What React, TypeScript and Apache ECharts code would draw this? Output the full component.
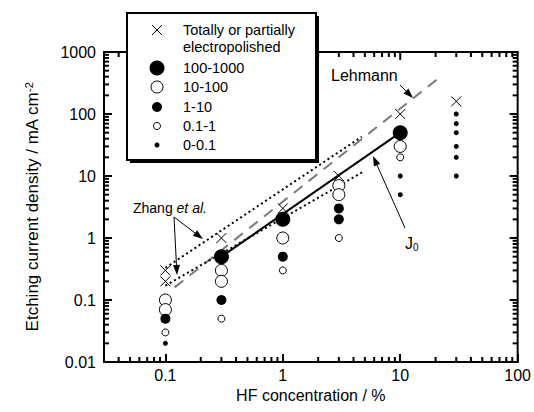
import React, { useEffect, useRef } from 'react';
import * as echarts from 'echarts';

// ---- data ----
const xMajorTicks = [0.1, 1, 10];
const yMajorTicks = [0.1, 1, 10, 100];
const xMinorTicks = [0.04, 0.05, 0.06, 0.07, 0.08, 0.09, 0.2, 0.3, 0.4, 0.5, 0.6, 0.7, 0.8, 0.9, 2, 3, 4, 5, 6, 7, 8, 9, 20, 30, 40, 50, 60, 70, 80, 90];
const yMinorTicks = [0.02, 0.03, 0.04, 0.05, 0.06, 0.07, 0.08, 0.09, 0.2, 0.3, 0.4, 0.5, 0.6, 0.7, 0.8, 0.9, 2, 3, 4, 5, 6, 7, 8, 9, 20, 30, 40, 50, 60, 70, 80, 90, 200, 300, 400, 500, 600, 700, 800, 900];

const electropolished = [[0.1, 0.3], [0.1, 0.2], [0.3, 1], [1, 3], [3, 10], [10, 100], [30, 160]];
const class100to1000 = [[0.3, 0.5], [1, 2], [10, 50]];
const class10to100 = [[0.1, 0.1], [0.1, 0.07], [0.3, 0.3], [0.3, 0.2], [1, 1], [3, 7], [3, 5], [10, 30]];
const class1to10 = [[0.1, 0.05], [0.3, 0.1], [1, 0.5], [3, 3], [3, 2]];
const class01to1 = [[0.1, 0.03], [0.3, 0.05], [1, 0.3], [3, 1], [10, 20]];
const class0to01 = [[0.1, 0.02], [10, 10], [10, 5], [30, 100], [30, 70], [30, 50], [30, 30], [30, 20], [30, 10]];

const j0Line = [[0.3, 0.5], [10, 50]];
const lehmannLine = [[0.12, 0.16], [22, 400]];
const zhangUpperLine = [[0.1, 0.33], [4.7, 43]];
const zhangLowerLine = [[0.1, 0.17], [4.75, 11.5]];

const X_MIN = 0.03, X_MAX = 100, Y_MIN = 0.01, Y_MAX = 1000;
const FONT = '"Liberation Sans", Arial, Helvetica, sans-serif';

const decadeFmt = (v: number) => {
  const l = Math.log10(v);
  if (Math.abs(l - Math.round(l)) > 1e-6) return '';
  return String(parseFloat(Math.pow(10, Math.round(l)).toPrecision(3)));
};

function arrow(x1: number, y1: number, x2: number, y2: number) {
  const dx = x2 - x1, dy = y2 - y1;
  const len = Math.sqrt(dx * dx + dy * dy);
  const ux = dx / len, uy = dy / len;
  const hl = 10, hw = 3.5;
  const bx = x2 - ux * hl, by = y2 - uy * hl;
  return [
    { type: 'line', z: 50, shape: { x1, y1, x2: bx, y2: by }, style: { stroke: '#000', lineWidth: 1 } },
    {
      type: 'polygon', z: 50,
      shape: { points: [[x2, y2], [bx - uy * hw, by + ux * hw], [bx + uy * hw, by - ux * hw]] },
      style: { fill: '#000' },
    },
  ];
}

export default function App() {
  const ref = useRef<HTMLDivElement>(null);
  useEffect(() => {
    if (!ref.current) return;
    const chart = echarts.init(ref.current, undefined, { renderer: 'svg' });
    const lineSeries = (name: string, data: number[][], color: string, type: any, width: number) => ({
      name, type: 'line', data, showSymbol: false, symbol: 'none', silent: true,
      lineStyle: { color, type, width }, z: 2,
    });
    const scatter = (name: string, data: number[][], symbol: string, size: number, fill: string, border: string, bw: number) => ({
      name, type: 'scatter', data, symbol, symbolSize: size, z: 5,
      itemStyle: { color: fill, borderColor: border, borderWidth: bw, opacity: 1 },
    });

    const lx = 157;
    const legendText = (text: string, y: number) => ({
      type: 'text', z: 101, x: 183, y,
      style: { text, fill: '#000', font: `14.5px ${FONT}`, verticalAlign: 'middle', align: 'left' },
    });

    chart.setOption({
      animation: false,
      grid: { left: 104, right: 16, top: 52, bottom: 50, show: true, borderColor: '#000', borderWidth: 2 },
      xAxis: {
        type: 'log', min: X_MIN, max: X_MAX,
        axisLine: { show: true, lineStyle: { color: '#000', width: 2 } },
        axisTick: { show: true, inside: true, length: 8, lineStyle: { color: '#000', width: 2 } },
        splitLine: { show: false },
        axisLabel: { formatter: decadeFmt, fontSize: 16, color: '#000', fontFamily: FONT, margin: 5, showMinLabel: false },
        name: 'HF concentration / %', nameLocation: 'middle', nameGap: 24,
        nameTextStyle: { fontSize: 16, color: '#000', fontFamily: FONT },
      },
      yAxis: {
        type: 'log', min: Y_MIN, max: Y_MAX,
        axisLine: { show: true, lineStyle: { color: '#000', width: 2 } },
        axisTick: { show: true, inside: true, length: 8, lineStyle: { color: '#000', width: 2 } },
        splitLine: { show: false },
        axisLabel: { formatter: decadeFmt, fontSize: 16, color: '#000', fontFamily: FONT, margin: 8 },
        name: 'Etching current density / mA cm{sup|-2}', nameLocation: 'middle', nameGap: 62,
        nameTextStyle: {
          fontSize: 17, color: '#000', fontFamily: FONT,
          rich: { sup: { fontSize: 11, color: '#000', fontFamily: FONT, verticalAlign: 'top', padding: [0, 0, 8, 0] } },
        },
      },
      series: [
        lineSeries('Lehmann', lehmannLine, '#7a7a7a', [11, 8], 2),
        lineSeries('Zhang upper', zhangUpperLine, '#000', [2, 3], 2),
        lineSeries('Zhang lower', zhangLowerLine, '#000', [2, 3], 2),
        lineSeries('J0', j0Line, '#000', 'solid', 2),
        scatter('Totally or partially electropolished', electropolished, 'path://M0,0L10,10M10,0L0,10', 10, 'none', '#000', 1),
        scatter('100-1000', class100to1000, 'circle', 15, '#000', '#000', 0),
        scatter('10-100', class10to100, 'circle', 12, '#fff', '#000', 1),
        scatter('1-10', class1to10, 'circle', 10, '#000', '#000', 0),
        scatter('0.1-1', class01to1, 'circle', 7, '#fff', '#000', 1),
        scatter('0-0.1', class0to01, 'circle', 5, '#000', '#000', 0),
      ],
    });

    // minor ticks on all sides and mirrored major ticks (top/right), placed through the chart's log scales
    const px = (x: number, y: number) => chart.convertToPixel({ gridIndex: 0 }, [x, y]) as number[];
    const tickStyle = { stroke: '#000', lineWidth: 2 };
    const ticks: any[] = [];
    const addX = (v: number, len: number, bottom: boolean) => {
      const b = px(v, Y_MIN), t = px(v, Y_MAX);
      if (!b || !t) return;
      if (bottom) ticks.push({ type: 'line', z: 40, shape: { x1: b[0], y1: b[1], x2: b[0], y2: b[1] - len }, style: tickStyle });
      ticks.push({ type: 'line', z: 40, shape: { x1: t[0], y1: t[1], x2: t[0], y2: t[1] + len }, style: tickStyle });
    };
    const addY = (v: number, len: number, left: boolean) => {
      const l = px(X_MIN, v), r = px(X_MAX, v);
      if (!l || !r) return;
      if (left) ticks.push({ type: 'line', z: 40, shape: { x1: l[0], y1: l[1], x2: l[0] + len, y2: l[1] }, style: tickStyle });
      ticks.push({ type: 'line', z: 40, shape: { x1: r[0], y1: r[1], x2: r[0] - len, y2: r[1] }, style: tickStyle });
    };
    xMajorTicks.forEach((v) => addX(v, 8, false));
    xMinorTicks.forEach((v) => addX(v, 5, true));
    yMajorTicks.forEach((v) => addY(v, 8, false));
    yMinorTicks.forEach((v) => addY(v, 5, true));

    chart.setOption({
      graphic: [
        ...ticks,
        // legend box with drop shadow
        { type: 'rect', z: 100, shape: { x: 130, y: 16, width: 189, height: 147 }, style: { fill: '#000' } },
        { type: 'rect', z: 100, shape: { x: 127, y: 13, width: 189, height: 147 }, style: { fill: '#fff', stroke: '#000', lineWidth: 2 } },
        { type: 'line', z: 101, shape: { x1: lx - 5, y1: 25, x2: lx + 5, y2: 35 }, style: { stroke: '#000', lineWidth: 1 } },
        { type: 'line', z: 101, shape: { x1: lx + 5, y1: 25, x2: lx - 5, y2: 35 }, style: { stroke: '#000', lineWidth: 1 } },
        { type: 'circle', z: 101, shape: { cx: lx, cy: 68, r: 7.5 }, style: { fill: '#000' } },
        { type: 'circle', z: 101, shape: { cx: lx, cy: 87, r: 6 }, style: { fill: '#fff', stroke: '#000', lineWidth: 1 } },
        { type: 'circle', z: 101, shape: { cx: lx, cy: 107, r: 5 }, style: { fill: '#000' } },
        { type: 'circle', z: 101, shape: { cx: lx, cy: 126, r: 3.5 }, style: { fill: '#fff', stroke: '#000', lineWidth: 1 } },
        { type: 'circle', z: 101, shape: { cx: lx, cy: 145, r: 2.5 }, style: { fill: '#000' } },
        legendText('Totally or partially', 30),
        legendText('electropolished', 47),
        legendText('100-1000', 68),
        legendText('10-100', 87),
        legendText('1-10', 107),
        legendText('0.1-1', 126),
        legendText('0-0.1', 145),
        // annotations
        {
          type: 'text', z: 50, x: 331, y: 75,
          style: { text: 'Lehmann', fill: '#000', font: `16px ${FONT}`, verticalAlign: 'middle' },
        },
        ...arrow(400, 85, 413, 98),
        {
          type: 'text', z: 50, x: 133, y: 208,
          style: {
            text: '{a|Zhang }{b|et al.}', verticalAlign: 'middle',
            rich: {
              a: { fontSize: 14, fontFamily: FONT, fill: '#000' },
              b: { fontSize: 14, fontFamily: FONT, fontStyle: 'italic', fill: '#000' },
            },
          },
        },
        ...arrow(174, 217, 203, 239),
        ...arrow(174, 217, 177, 275),
        ...arrow(405, 228, 373, 156),
        {
          type: 'text', z: 50, x: 405, y: 243,
          style: {
            text: '{a|J}{b|0}', verticalAlign: 'middle',
            rich: {
              a: { fontSize: 16, fontFamily: FONT, fill: '#000' },
              b: { fontSize: 10, fontFamily: FONT, fill: '#000', verticalAlign: 'bottom', padding: [8, 0, 0, 0] },
            },
          },
        },
      ],
    });
    return () => chart.dispose();
  }, []);
  return <div ref={ref} style={{ position: 'fixed', left: 0, top: 0, width: 534, height: 412, background: '#fff' }} />;
}
